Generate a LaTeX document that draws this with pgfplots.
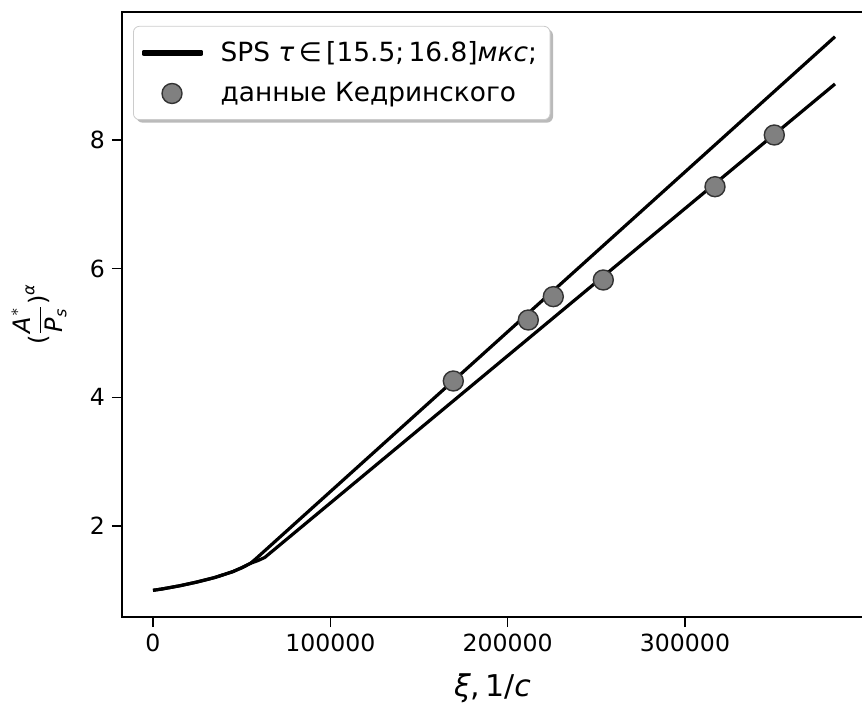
\documentclass[border=0pt]{standalone}
\usepackage{fontspec}
\setmainfont{DejaVu Sans}
\usepackage{amsmath}
\usepackage{pgfplots}
\pgfplotsset{compat=1.18}
\usetikzlibrary{shadows}
\makeatletter
\tikzset{nopre/.code={\let\tikz@preactions\pgfutil@empty}}
\makeatother
\pgfplotsset{
  linelegend/.style={legend image code/.code={\fill[nopre, sharp corners, black] (0pt,-0.8pt) rectangle (28.5pt,0.8pt);}},
  marklegend/.style={legend image code/.code={\draw[mark repeat=2, mark phase=2, ##1, nopre] plot coordinates {(0pt,0pt) (14pt,0pt) (28.5pt,0pt)};}},
}
\begin{document}
\begin{tikzpicture}
\begin{axis}[
  at={(0,0)}, anchor=south west,
  scale only axis, width=370.5pt, height=302.5pt,
  xmin=-17481, xmax=400380, ymin=0.585, ymax=9.99,
  axis line style={line width=0.8pt},
  tick align=outside, xtick pos=lower, ytick pos=left,
  major tick length=5pt, every tick/.style={black, line width=0.8pt},
  scaled x ticks=false,
  xtick={0,100000,200000,300000}, xticklabels={0,100000,200000,300000},
  ytick={2,4,6,8}, yticklabels={2,4,6,8},
  tick label style={font=\fontsize{11.8}{14}\selectfont},
  xlabel={\fontsize{15}{18}\selectfont\textit{ξ},\,1/\textit{c}},
  xlabel style={at={(axis description cs:0.5,-0.1322)}, anchor=base},
  ylabel={\fontsize{12}{14}\selectfont$\text{(}\dfrac{\textit{A}^{*}}{\textit{P}_{\textit{s}}}\text{)}^{\textit{α}}$},
  ylabel style={at={(axis description cs:-0.112,0.5)}, anchor=center},
  legend style={at={(axis description cs:0.0149,0.977)}, anchor=north west,
    draw=black!20, fill=white, rounded corners=3pt,
    drop shadow={shadow xshift=1.5pt, shadow yshift=-1.5pt, fill=black!45, opacity=0.6},
    font=\fontsize{13.2}{16}\selectfont, inner xsep=4.5pt, inner ysep=5.5pt, row sep=5pt,
    /tikz/every odd column/.append style={column sep=7pt}},
  legend cell align=left,
]
\addplot[black, line width=1.6pt, line join=round, linelegend]
  coordinates {(0,1.0) (5000,1.02) (10000,1.045) (15000,1.07) (20000,1.10) (25000,1.13)
  (30000,1.165) (35000,1.20) (40000,1.245) (45000,1.29) (50000,1.35) (55000,1.42)
  (58000,1.49) (384600,9.606)};
\addlegendentry{SPS \textit{τ}\,∈\,[15.5;\,16.8]\textit{мкс};}
\addplot[black, line width=1.6pt, line join=round, forget plot]
  coordinates {(0,1.0) (5000,1.02) (10000,1.045) (15000,1.07) (20000,1.10) (25000,1.13)
  (30000,1.165) (35000,1.20) (40000,1.245) (45000,1.29) (50000,1.35) (55000,1.42)
  (59000,1.46) (63000,1.51) (384600,8.871)};
\addplot[only marks, mark=*, mark size=5pt, mark options={fill=black!50, draw=black!80, line width=0.7pt}, marklegend]
  coordinates {(169350,4.254) (211640,5.202) (225740,5.565) (253930,5.824) (316920,7.274) (350360,8.078)};
\addlegendentry{данные Кедринского}
\end{axis}
\pgfresetboundingbox
\path (-61pt,-48pt) rectangle (370pt,308.5pt);
\end{tikzpicture}
\end{document}
